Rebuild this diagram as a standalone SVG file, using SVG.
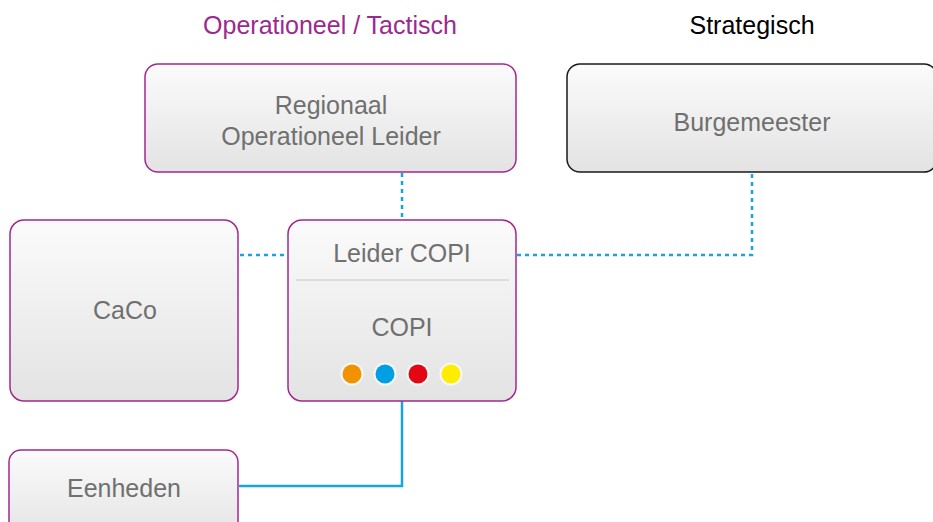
<svg xmlns="http://www.w3.org/2000/svg" width="933" height="522" viewBox="0 0 933 522">
<defs>
<linearGradient id="g" x1="0" y1="0" x2="0" y2="1">
<stop offset="0" stop-color="#fbfbfb"/>
<stop offset="1" stop-color="#e3e3e3"/>
</linearGradient>
<style>
.box{fill:url(#g);stroke:#a0288f;stroke-width:1.5}
.blk{fill:url(#g);stroke:#1a1a1a;stroke-width:1.5}
.t{font-family:"Liberation Sans",Arial,sans-serif;font-size:25px;fill:#707070;text-anchor:middle}
.h{font-family:"Liberation Sans",Arial,sans-serif;font-size:25px;text-anchor:middle}
.dot{fill:none;stroke:#1aa3e3;stroke-width:2.5;stroke-dasharray:4 4}
.sol{fill:none;stroke:#1aa3e3;stroke-width:2.5}
.ring{fill:#f7f7f7;stroke:none}
</style>
</defs>
<rect width="933" height="522" fill="#ffffff"/>
<text class="h" x="330" y="34" fill="#9b2a8e">Operationeel / Tactisch</text>
<text class="h" x="752" y="34" fill="#000000">Strategisch</text>
<g id="connectors">
<path class="dot" d="M402 173 V220"/>
<path class="dot" d="M240 255 H288"/>
<path class="dot" d="M517 255 H752 V173"/>
<path class="sol" d="M402 401 V486 H239"/>
</g>
<g id="rol">
<rect class="box" x="145" y="64" width="371" height="108" rx="13"/>
<text class="t" x="331" y="114">Regionaal</text>
<text class="t" x="331" y="145">Operationeel Leider</text>
</g>
<g id="burgemeester">
<rect class="blk" x="567" y="64" width="370" height="108" rx="13"/>
<text class="t" x="752" y="131">Burgemeester</text>
</g>
<g id="caco">
<rect class="box" x="10" y="220" width="228" height="181" rx="14"/>
<text class="t" x="125" y="319">CaCo</text>
</g>
<g id="copi">
<rect class="box" x="288" y="220" width="228" height="181" rx="14"/>
<text class="t" x="402" y="262">Leider COPI</text>
<line x1="296" y1="280" x2="509" y2="280" stroke="#d6d6d6" stroke-width="1.5"/>
<text class="t" x="402" y="336">COPI</text>
<circle class="ring" cx="352" cy="374" r="11.5"/>
<circle class="ring" cx="385" cy="374" r="11.5"/>
<circle class="ring" cx="418" cy="374" r="11.5"/>
<circle class="ring" cx="451" cy="374" r="11.5"/>
<circle cx="352" cy="374" r="9.5" fill="#f39200"/>
<circle cx="385" cy="374" r="9.5" fill="#009fe3"/>
<circle cx="418" cy="374" r="9.5" fill="#e30613"/>
<circle cx="451" cy="374" r="9.5" fill="#ffed00"/>
</g>
<g id="eenheden">
<rect class="box" x="9" y="450" width="229" height="90" rx="12"/>
<text class="t" x="124" y="497">Eenheden</text>
</g>
</svg>
